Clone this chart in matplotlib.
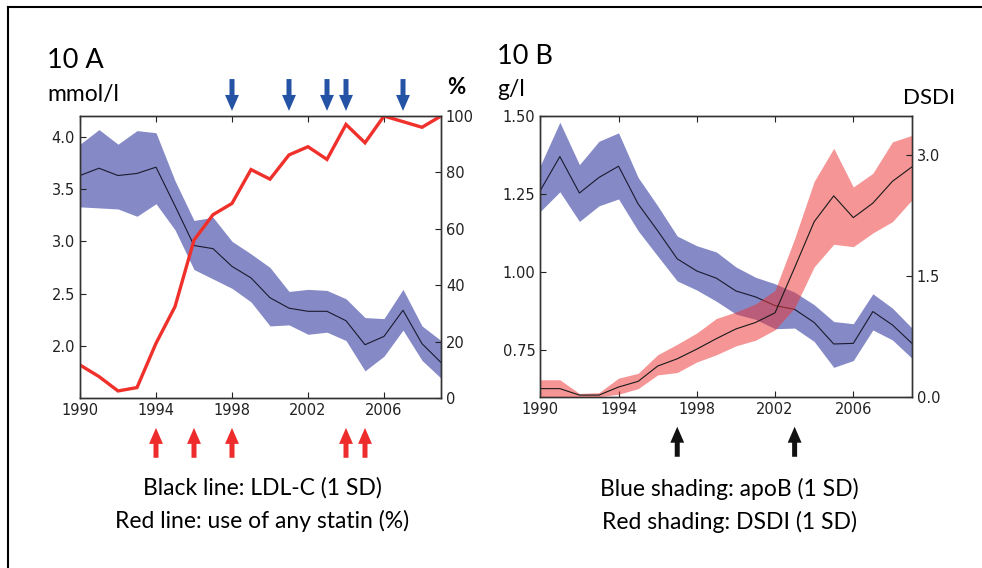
import numpy as np
import matplotlib.pyplot as plt
from matplotlib.lines import Line2D

# years of follow-up
years = list(range(1990, 2010))

# 10 A: LDL-C (mmol/l), mean and +/- 1 SD
ldl_mean = [3.63, 3.70, 3.63, 3.65, 3.71, 3.34, 2.96, 2.93, 2.76, 2.65,
            2.46, 2.36, 2.33, 2.33, 2.24, 2.01, 2.09, 2.34, 2.02, 1.84]
ldl_upper = [3.93, 4.07, 3.93, 4.06, 4.04, 3.58, 3.20, 3.23, 3.00, 2.88,
             2.75, 2.52, 2.54, 2.53, 2.45, 2.27, 2.26, 2.54, 2.19, 2.05]
ldl_lower = [3.33, 3.32, 3.31, 3.24, 3.36, 3.11, 2.73, 2.64, 2.55, 2.42,
             2.19, 2.20, 2.11, 2.13, 2.05, 1.76, 1.90, 2.15, 1.86, 1.69]
# use of any statin (%)
statin = [11.7, 7.6, 2.5, 3.7, 19.4, 32.4, 56, 65, 69, 81,
          77.6, 86.2, 89.1, 84.6, 97, 90.5, 100, 98, 96, 100]

# 10 B: apoB (g/l), mean and +/- 1 SD
apob_mean = [1.261, 1.37, 1.253, 1.303, 1.339, 1.218, 1.132, 1.042, 1.003, 0.98,
             0.939, 0.92, 0.892, 0.88, 0.838, 0.769, 0.771, 0.873, 0.83, 0.771]
apob_upper = [1.341, 1.48, 1.344, 1.419, 1.446, 1.303, 1.212, 1.115, 1.084, 1.064,
              1.016, 0.983, 0.962, 0.935, 0.895, 0.841, 0.834, 0.93, 0.884, 0.82]
apob_lower = [1.194, 1.257, 1.162, 1.212, 1.234, 1.132, 1.051, 0.971, 0.942, 0.906,
              0.865, 0.848, 0.818, 0.82, 0.777, 0.694, 0.716, 0.814, 0.782, 0.723]
# DSDI, mean and +/- 1 SD
dsdi_mean = [0.10, 0.10, 0.02, 0.02, 0.12, 0.19, 0.38, 0.47, 0.59, 0.72,
             0.84, 0.92, 1.04, 1.60, 2.17, 2.49, 2.22, 2.40, 2.67, 2.85]
dsdi_upper = [0.21, 0.21, 0.04, 0.05, 0.23, 0.29, 0.52, 0.65, 0.79, 0.97,
              1.05, 1.15, 1.32, 1.96, 2.67, 3.08, 2.60, 2.77, 3.16, 3.24]
dsdi_lower = [0.0, 0.0, 0.0, 0.0, 0.03, 0.10, 0.27, 0.30, 0.43, 0.52,
              0.63, 0.70, 0.83, 1.10, 1.61, 1.89, 1.86, 2.03, 2.17, 2.44]

# arrow markers
blue_arrows_a = [1998, 2001, 2003, 2004, 2007]
red_arrows_a = [1994, 1996, 1998, 2004, 2005]
black_arrows_b = [1997, 2003]

W, H = 982, 568
fig = plt.figure(figsize=(W / 100, H / 100), dpi=100)
txt_font = ['Lato', 'DejaVu Sans']

band_blue = '#858ac6'
band_red = '#ec3535'
statin_red = '#f0302a'
spine_col = '#333333'


def px(x, y):
    return x / W, 1 - y / H


def style_axis(ax):
    for s in ax.spines.values():
        s.set_color(spine_col)
        s.set_linewidth(1.0)
    ax.tick_params(direction='in', length=4, width=0.8, labelsize=10.5,
                   colors='#222222', top=True)


def arrow(ax, x, y0, y1, color):
    ax.annotate('', xy=(x, y1), xytext=(x, y0),
                xycoords=ax.get_xaxis_transform(),
                arrowprops=dict(arrowstyle='simple,head_length=1.15,head_width=1.0,tail_width=0.36',
                                mutation_scale=10, color=color, shrinkA=0, shrinkB=0,
                                lw=0),
                annotation_clip=False)


# ---------- panel A ----------
axA = fig.add_axes([80 / W, 170 / H, 361 / W, 282 / H])
axA.fill_between(years, ldl_lower, ldl_upper, color=band_blue, lw=0)
axA.plot(years, ldl_mean, color='#1a1a2e', lw=0.8)
axA.set_xlim(1990, 2009)
axA.set_ylim(1.5, 4.2)
axA.set_xticks(range(1990, 2009, 4))
axA.set_yticks([2.0, 2.5, 3.0, 3.5, 4.0])
style_axis(axA)

axA2 = axA.twinx()
axA2.plot(years, statin, color=statin_red, lw=2.4, solid_joinstyle='miter')
axA2.set_ylim(0, 100)
axA2.set_yticks(range(0, 101, 20))
style_axis(axA2)

for yr in blue_arrows_a:
    arrow(axA, yr, 1.131, 1.018, '#2453a6')
for yr in red_arrows_a:
    arrow(axA, yr, -0.212, -0.106, '#ee2c2c')

# ---------- panel B ----------
axB = fig.add_axes([540.3 / W, 171.3 / H, 371.7 / W, 280.7 / H])
axB.fill_between(years, apob_lower, apob_upper, color=band_blue, lw=0)
axB.plot(years, apob_mean, color='#1a1a2e', lw=0.8)
axB.set_xlim(1990, 2009)
axB.set_ylim(0.6, 1.5)
axB.set_xticks(range(1990, 2009, 4))
axB.set_yticks([0.75, 1.0, 1.25, 1.5])
axB.set_yticklabels(['0.75', '1.00', '1.25', '1.50'])
style_axis(axB)

axB2 = axB.twinx()
axB2.fill_between(years, dsdi_lower, dsdi_upper, color=band_red, alpha=0.52, lw=0)
axB2.plot(years, dsdi_mean, color='#1a1a1a', lw=0.8)
axB2.set_ylim(0, 3.48)
axB2.set_yticks([0.0, 1.5, 3.0])
style_axis(axB2)

for yr in black_arrows_b:
    arrow(axB, yr, -0.214, -0.107, '#111111')

# ---------- texts ----------
fig.text(*px(47, 61), '10 A', fontsize=19.5, va='center', ha='left', family=txt_font)
fig.text(*px(47, 94), 'mmol/l', fontsize=16.5, va='center', ha='left', family=txt_font)
fig.text(*px(456, 87), '%', fontsize=16, va='center', ha='center',
         fontweight='bold', family=txt_font)
fig.text(*px(497, 57), '10 B', fontsize=19.5, va='center', ha='left', family=txt_font)
fig.text(*px(497, 90), 'g/l', fontsize=16.5, va='center', ha='left', family=txt_font)
fig.text(*px(929, 98), 'DSDI', fontsize=16, va='center', ha='center', family=txt_font)

fig.text(*px(262, 488), 'Black line: LDL-C (1 SD)', fontsize=16.5, va='center',
         ha='center', family=txt_font)
fig.text(*px(262, 521), 'Red line: use of any statin (%)', fontsize=16.5, va='center',
         ha='center', family=txt_font)
fig.text(*px(729, 489), 'Blue shading: apoB (1 SD)', fontsize=16.5, va='center',
         ha='center', family=txt_font)
fig.text(*px(729, 522), 'Red shading: DSDI (1 SD)', fontsize=16.5, va='center',
         ha='center', family=txt_font)

# outer frame (left and top edges)
fig.add_artist(Line2D([8 / W, 8 / W], [0, 1 - 7 / H], color='black', lw=1.5))
fig.add_artist(Line2D([8 / W, 1], [1 - 7 / H, 1 - 7 / H], color='black', lw=1.5))

fig.savefig('out.png', dpi=100)
